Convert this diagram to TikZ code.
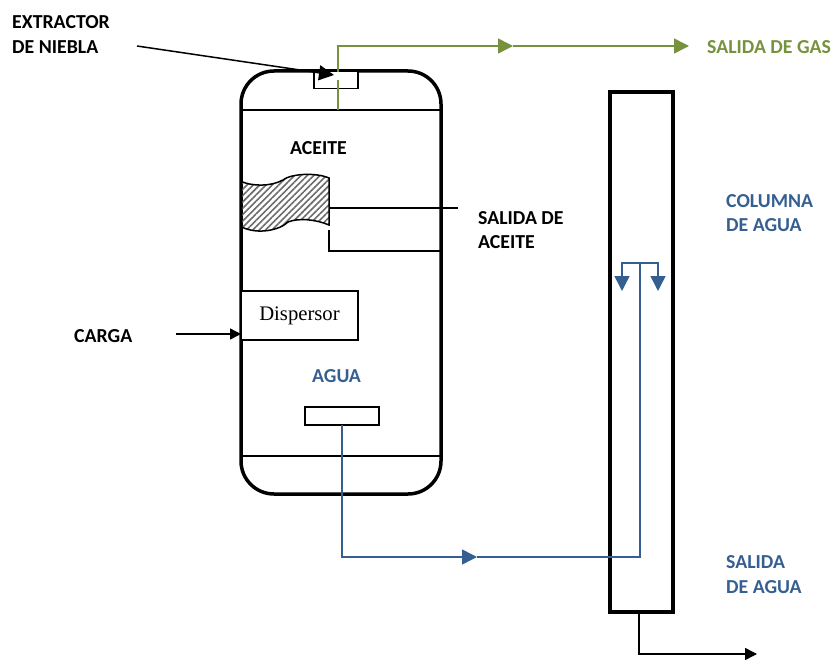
\documentclass[tikz,border=0pt]{standalone}
\usepackage{fontspec}
\setmainfont{Carlito}
\newfontfamily\serifdisp{Liberation Serif}
\usetikzlibrary{arrows.meta,patterns.meta}
\definecolor{gasgreen}{HTML}{76923C}
\definecolor{aguablue}{HTML}{365F91}
\tikzset{
  tag/.style={font=\fontsize{19.8}{24.7}\selectfont\bfseries, align=left, anchor=west, inner sep=0pt},
  thin line/.style={line width=1.5pt},
  box/.style={draw, line width=1.5pt, fill=white, anchor=north west, inner sep=0pt, outer sep=0pt},
  tip/.style={-{Triangle[length=15pt,width=15pt]}}
}
\begin{document}
\begin{tikzpicture}[x=1pt,y=-1pt]
  \useasboundingbox (0,0) rectangle (835,661);
  % vessel and column
  \node[draw, line width=3.5pt, rounded corners=33pt, minimum width=200pt, minimum height=423pt, anchor=north west, inner sep=0pt, outer sep=0pt] (vessel) at (241,71) {};
  \node[draw, line width=3.5pt, minimum width=63pt, minimum height=520pt, anchor=north west, inner sep=0pt, outer sep=0pt] (column) at (610,92) {};
  \coordinate (topL) at (241,110);
  \coordinate (topR) at (441,110);
  \coordinate (botL) at (241,456);
  \coordinate (botR) at (441,456);
  \draw[thin line] (topL) -- (topR);
  \draw[thin line] (botL) -- (botR);
  % inner boxes
  \node[box, minimum width=44pt, minimum height=17pt] (extractor) at (314,71.5) {};
  \node[box, minimum width=117pt, minimum height=49pt, font=\fontsize{20.7}{24}\selectfont\serifdisp] (dispersor) at (241,291) {Dispersor};
  \node[box, minimum width=74pt, minimum height=18pt] (drain) at (305,407) {};
  % oil weir
  \draw[thin line, pattern={Lines[angle=45,distance=4.5pt,line width=1.6pt]}, pattern color=gray!85!black]
    (241.7,181.7) .. controls (252,186) and (270,187) .. (283,180)
    .. controls (290,174) and (315,172) .. (329,178)
    -- (329,225)
    .. controls (315,219) and (298,218) .. (288,222)
    .. controls (280,230) and (258,235) .. (241.7,227) -- cycle;
  \coordinate (weir) at (329,208);
  \coordinate (oilOut) at (458,208);
  \coordinate (weirA) at (329,230);
  \coordinate (weirB) at (329,251);
  \coordinate (weirC) at (441,251);
  \draw[thin line] (weir) -- (oilOut);
  \draw[thin line] (weirA) -- (weirB) -- (weirC);
  % gas line
  \coordinate (gasA) at (338,110);
  \coordinate (gasB) at (338,80);
  \coordinate (gasC) at (338,72);
  \coordinate (gasD) at (338,46);
  \coordinate (gasE) at (513,46);
  \coordinate (gasF) at (689,46);
  \draw[gasgreen, line width=1.5pt] (gasA) -- (gasB);
  \draw[gasgreen, line width=1.5pt, tip] (gasC) -- (gasD) -- (gasE);
  \draw[gasgreen, line width=1.5pt, tip] (gasE) -- (gasF);
  % water line
  \coordinate (wA) at (342,557);
  \coordinate (wB) at (477,557);
  \coordinate (wC) at (640,557);
  \coordinate (wD) at (640,263);
  \coordinate (wL) at (622,263);
  \coordinate (wR) at (658,263);
  \coordinate (wLt) at (622,291);
  \coordinate (wRt) at (658,291);
  \draw[aguablue, line width=1.5pt, tip] (drain.south) -- (wA) -- (wB);
  \draw[aguablue, line width=1.5pt] (wB) -- (wC) -- (wD);
  \draw[aguablue, line width=1.5pt, tip] (wD) -- (wL) -- (wLt);
  \draw[aguablue, line width=1.5pt, tip] (wD) -- (wR) -- (wRt);
  % the rest
  \coordinate (exA) at (137,46);
  \coordinate (exB) at (334,75);
  \coordinate (caA) at (176,334);
  \coordinate (colA) at (639,612);
  \coordinate (colB) at (639,654);
  \coordinate (colC) at (757,654);
  \draw[line width=1.5pt, tip] (exA) -- (exB);
  \draw[line width=1.5pt, -{Triangle[length=11pt,width=11pt]}] (caA) -- (caA -| vessel.west);
  \draw[line width=1.5pt, -{Triangle[length=12pt,width=12pt]}] (colA) -- (colB) -- (colC);
  % labels
  \node[tag] (lblExtractor) at (12,34.5) {EXTRACTOR\\DE NIEBLA};
  \node[tag] (lblAceite) at (290,148) {ACEITE};
  \node[tag] (lblSalAceite) at (478,230) {SALIDA DE\\ACEITE};
  \node[tag] (lblCarga) at (74,336) {CARGA};
  \node[tag, text=aguablue] (lblAgua) at (312,376) {AGUA};
  \node[tag, text=gasgreen] (lblGas) at (707,47) {SALIDA DE GAS};
  \node[tag, text=aguablue] (lblColumna) at (726,213) {COLUMNA\\DE AGUA};
  \node[tag, text=aguablue] (lblSalAgua) at (726,574.5) {SALIDA\\DE AGUA};
\end{tikzpicture}
\end{document}
